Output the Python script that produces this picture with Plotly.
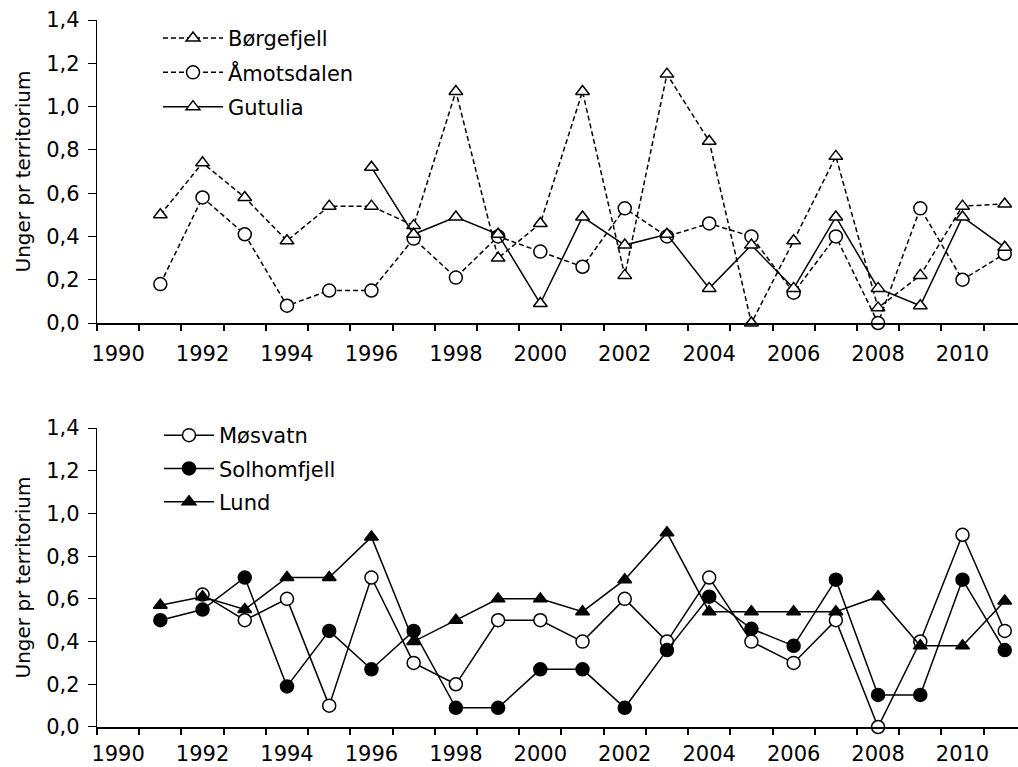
import plotly.graph_objects as go

years = list(range(1991, 2012))

# Top panel
borgefjell = [0.50, 0.74, 0.58, 0.38, 0.54, 0.54, 0.45, 1.07, 0.30, 0.46, 1.07,
              0.22, 1.15, 0.84, 0.00, 0.38, 0.77, 0.07, 0.22, 0.54, 0.55]
amotsdalen = [0.18, 0.58, 0.41, 0.08, 0.15, 0.15, 0.39, 0.21, 0.40, 0.33, 0.26,
              0.53, 0.40, 0.46, 0.40, 0.14, 0.40, 0.00, 0.53, 0.20, 0.32]
gutulia = [None, None, None, None, None, 0.72, 0.41, 0.49, 0.41, 0.09, 0.49,
           0.36, 0.41, 0.16, 0.36, 0.16, 0.49, 0.16, 0.08, 0.49, 0.35]

# Bottom panel
mosvatn = [None, 0.62, 0.50, 0.60, 0.10, 0.70, 0.30, 0.20, 0.50, 0.50, 0.40,
           0.60, 0.40, 0.70, 0.40, 0.30, 0.50, 0.00, 0.40, 0.90, 0.45]
solhomfjell = [0.50, 0.55, 0.70, 0.19, 0.45, 0.27, 0.45, 0.09, 0.09, 0.27, 0.27,
               0.09, 0.36, 0.61, 0.46, 0.38, 0.69, 0.15, 0.15, 0.69, 0.36]
lund = [0.57, 0.61, 0.55, 0.70, 0.70, 0.89, 0.40, 0.50, 0.60, 0.60, 0.54,
        0.69, 0.91, 0.54, 0.54, 0.54, 0.54, 0.61, 0.38, 0.38, 0.59]

tick_years = list(range(1990, 2011, 2))
y_ticks = [0, 0.2, 0.4, 0.6, 0.8, 1.0, 1.2, 1.4]
y_title = "Unger pr territorium"

FONT = "DejaVu Sans"
BLACK = "#000000"
DASH = "5px,3px"

fig = go.Figure()

def add(name, y, xa, ya, legend, symbol, fill, dash, size):
    fig.add_trace(go.Scatter(
        x=years, y=y, name=name, mode="lines+markers",
        xaxis=xa, yaxis=ya, legend=legend, legendgroup=name,
        connectgaps=False, cliponaxis=False,
        line=dict(color=BLACK, width=1.5, dash=dash),
        marker=dict(symbol=symbol, size=size, color=fill,
                    line=dict(color=BLACK, width=1.5)),
    ))

add("Børgefjell", borgefjell, "x", "y", "legend", "triangle-up", "white", DASH, 12)
add("Åmotsdalen", amotsdalen, "x", "y", "legend", "circle", "white", DASH, 13)
add("Gutulia", gutulia, "x", "y", "legend", "triangle-up", "white", "solid", 12)

add("Møsvatn", mosvatn, "x2", "y2", "legend2", "circle", "white", "solid", 13)
add("Solhomfjell", solhomfjell, "x2", "y2", "legend2", "circle", BLACK, "solid", 13)
add("Lund", lund, "x2", "y2", "legend2", "triangle-up", BLACK, "solid", 12)

x_range = [1989.5, 1989.5 + (1018 - 97) / 42.22]

xcommon = dict(
    range=x_range, domain=[0, 1],
    tickmode="array", tickvals=tick_years, ticks="", tickangle=0,
    showline=True, linecolor=BLACK, linewidth=2,
    showgrid=False, zeroline=False, automargin=False,
    tickfont=dict(family=FONT, size=21, color=BLACK),
    minor=dict(tickmode="linear", tick0=1989.5, dtick=1, ticks="outside",
               ticklen=6, tickwidth=1.5, tickcolor=BLACK, showgrid=False),
)
ycommon = dict(
    range=[0, 1.4], tickmode="array", tickvals=y_ticks, tickformat=".1f",
    ticks="outside", ticklen=8, tickwidth=1.2, tickcolor=BLACK,
    ticklabelstandoff=4, automargin=False,
    showline=True, linecolor=BLACK, linewidth=1.3,
    showgrid=False, zeroline=False,
    tickfont=dict(family=FONT, size=21, color=BLACK),
    title=dict(text=y_title, font=dict(family=FONT, size=20, color=BLACK),
               standoff=10),
)

legend_common = dict(
    xref="paper", yref="paper", xanchor="left", yanchor="top",
    bgcolor="rgba(0,0,0,0)", traceorder="grouped",
    font=dict(family=FONT, size=21, color=BLACK),
)

fig.update_layout(
    width=1018, height=767,
    margin=dict(l=97, r=0, t=20, b=40, autoexpand=False),
    paper_bgcolor="white", plot_bgcolor="white",
    separators=", ",
    font=dict(family=FONT, size=21, color=BLACK),
    xaxis=dict(**xcommon, anchor="y", ticklabelstandoff=11),
    yaxis=dict(**ycommon, domain=[0.5714, 1.0], anchor="x"),
    xaxis2=dict(**xcommon, anchor="y2", ticklabelstandoff=7),
    yaxis2=dict(**ycommon, domain=[0.0, 0.4229], anchor="x2"),
    legend=dict(**legend_common, x=(158 - 97) / 921, y=1.003,
                tracegroupgap=4, itemwidth=60),
    legend2=dict(**legend_common, x=(159 - 97) / 921, y=(727 - 415) / 707,
                 tracegroupgap=3, itemwidth=50),
    showlegend=True,
)

fig.write_html(
    "out.html",
    config={"displayModeBar": False},
    post_script="document.body.style.margin='0';document.body.style.overflow='hidden';",
)
